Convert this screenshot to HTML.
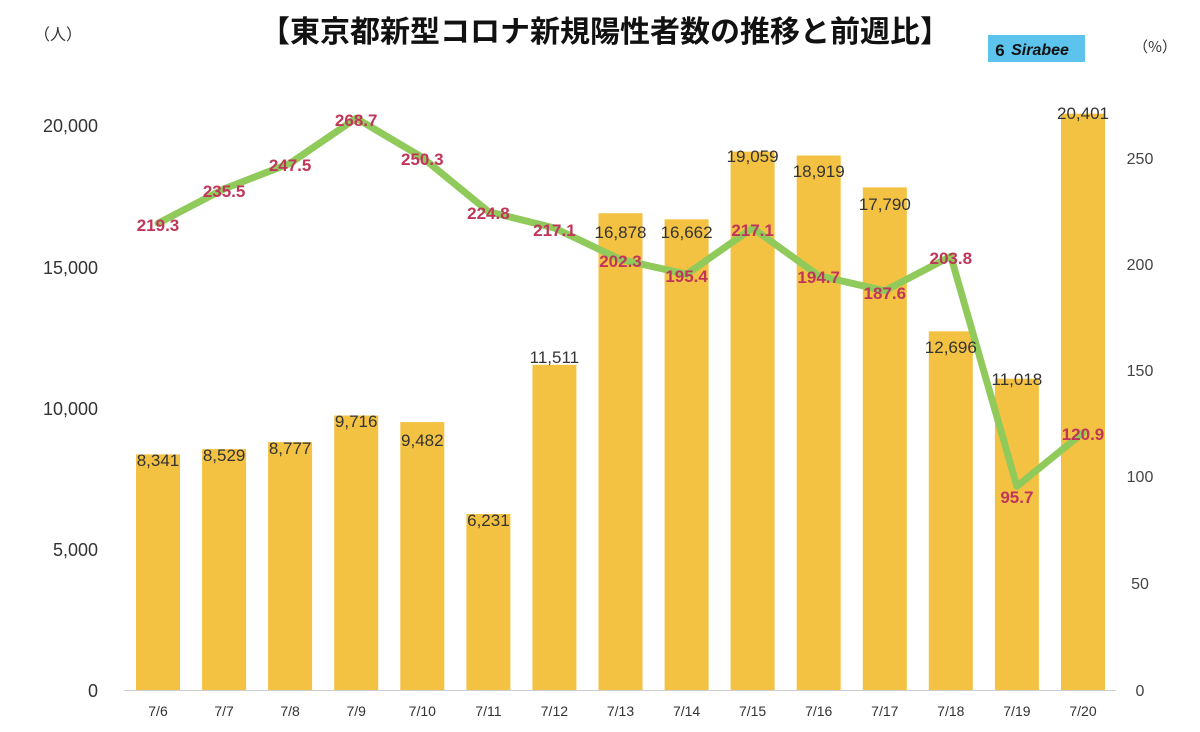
<!DOCTYPE html>
<html><head><meta charset="utf-8"><style>
html,body{margin:0;padding:0;background:#fff;}
svg{display:block;font-family:"Liberation Sans","Noto Sans CJK JP",sans-serif;}
</style></head><body>
<svg width="1200" height="732" viewBox="0 0 1200 732" xmlns="http://www.w3.org/2000/svg">
<rect width="1200" height="732" fill="#fff"/>
<text x="605" y="42" text-anchor="middle" font-size="30" font-weight="bold" fill="#111" font-family="'Noto Sans CJK JP',sans-serif">【東京都新型コロナ新規陽性者数の推移と前週比】</text>
<text x="58" y="40" text-anchor="middle" font-size="16" fill="#333" font-family="'Noto Sans CJK JP',sans-serif">（人）</text>
<text x="1155" y="52" text-anchor="middle" font-size="15" fill="#333" font-family="'Noto Sans CJK JP',sans-serif">（%）</text>
<rect x="988" y="35" width="97" height="27" fill="#5bc3ec"/>
<text x="1040" y="55" text-anchor="middle" font-size="16" font-weight="bold" font-style="italic" fill="#111">Sirabee</text>
<text x="1000" y="56" text-anchor="middle" font-size="17" font-weight="bold" fill="#111">6</text>
<g font-size="18" fill="#333" text-anchor="end">
<text x="98" y="697">0</text><text x="98" y="556">5,000</text><text x="98" y="415">10,000</text><text x="98" y="274">15,000</text><text x="98" y="132">20,000</text>
</g>
<g font-size="16" fill="#444" text-anchor="middle">
<text x="1140" y="696">0</text><text x="1140" y="589">50</text><text x="1140" y="482">100</text><text x="1140" y="376">150</text><text x="1140" y="270">200</text><text x="1140" y="164">250</text>
</g>
<g fill="#f4c242">
<rect x="136" y="454.4" width="44" height="235.6"/>
<rect x="202.1" y="449.1" width="44" height="240.9"/>
<rect x="268.1" y="442.1" width="44" height="247.9"/>
<rect x="334.2" y="415.5" width="44" height="274.5"/>
<rect x="400.3" y="422.1" width="44" height="267.9"/>
<rect x="466.4" y="514" width="44" height="176"/>
<rect x="532.4" y="364.8" width="44" height="325.2"/>
<rect x="598.5" y="213.2" width="44" height="476.8"/>
<rect x="664.6" y="219.3" width="44" height="470.7"/>
<rect x="730.6" y="151.6" width="44" height="538.4"/>
<rect x="796.7" y="155.5" width="44" height="534.5"/>
<rect x="862.8" y="187.4" width="44" height="502.6"/>
<rect x="928.8" y="331.3" width="44" height="358.7"/>
<rect x="994.9" y="378.7" width="44" height="311.3"/>
<rect x="1061" y="113.7" width="44" height="576.3"/>
</g>
<line x1="124" y1="690.5" x2="1116" y2="690.5" stroke="#ccc" stroke-width="1"/>
<g font-size="14" fill="#333" text-anchor="middle">
<text x="158" y="716">7/6</text><text x="224.1" y="716">7/7</text><text x="290.1" y="716">7/8</text><text x="356.2" y="716">7/9</text><text x="422.3" y="716">7/10</text><text x="488.4" y="716">7/11</text><text x="554.4" y="716">7/12</text><text x="620.5" y="716">7/13</text><text x="686.6" y="716">7/14</text><text x="752.6" y="716">7/15</text><text x="818.7" y="716">7/16</text><text x="884.8" y="716">7/17</text><text x="950.8" y="716">7/18</text><text x="1016.9" y="716">7/19</text><text x="1083" y="716">7/20</text>
</g>
<polyline fill="none" stroke="#8fca5a" stroke-width="7" stroke-linejoin="round" stroke-linecap="round" points="158,223.3 224.1,188.9 290.1,163.3 356.2,118.2 422.3,157.4 488.4,211.6 554.4,228 620.5,259.5 686.6,274.2 752.6,228 818.7,275.7 884.8,290.8 950.8,256.3 1016.9,486.3 1083,432.7"/>
<g font-size="17" fill="#333" text-anchor="middle">
<text x="158" y="466">8,341</text><text x="224.1" y="461">8,529</text><text x="290.1" y="454">8,777</text><text x="356.2" y="427">9,716</text><text x="422.3" y="446">9,482</text><text x="488.4" y="526">6,231</text><text x="554.4" y="363">11,511</text><text x="620.5" y="238">16,878</text><text x="686.6" y="238">16,662</text><text x="752.6" y="162">19,059</text><text x="818.7" y="177">18,919</text><text x="884.8" y="210">17,790</text><text x="950.8" y="353">12,696</text><text x="1016.9" y="385">11,018</text><text x="1083" y="119">20,401</text>
</g>
<g font-size="17" font-weight="bold" fill="#c0365a" text-anchor="middle">
<text x="158" y="231">219.3</text><text x="224.1" y="197">235.5</text><text x="290.1" y="171">247.5</text><text x="356.2" y="126">268.7</text><text x="422.3" y="165">250.3</text><text x="488.4" y="219">224.8</text><text x="554.4" y="236">217.1</text><text x="620.5" y="267">202.3</text><text x="686.6" y="282">195.4</text><text x="752.6" y="236">217.1</text><text x="818.7" y="283">194.7</text><text x="884.8" y="299">187.6</text><text x="950.8" y="264">203.8</text><text x="1016.9" y="503">95.7</text><text x="1083" y="440">120.9</text>
</g>
</svg>
</body></html>
